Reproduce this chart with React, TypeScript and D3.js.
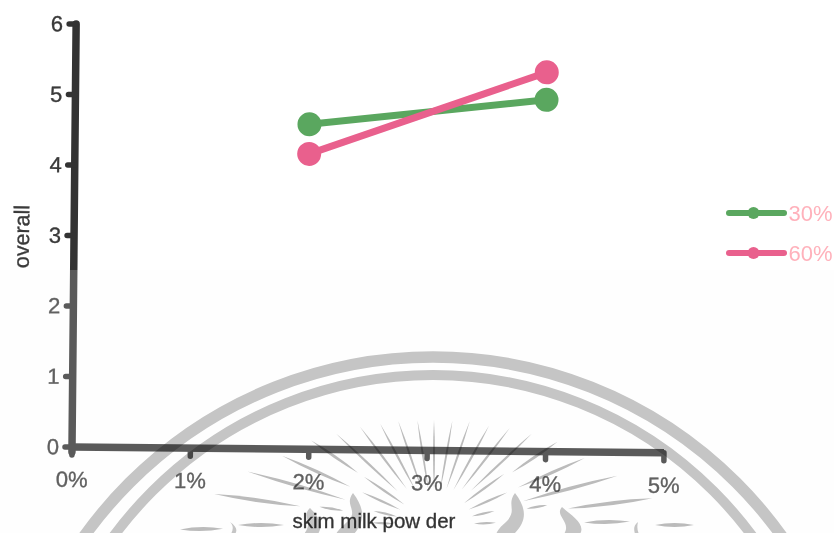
import React from "react";
import * as d3 from "d3";

// Skim milk powder level on x, overall score on y
const xTicks = [0, 1, 2, 3, 4, 5];
const yTicks = [0, 1, 2, 3, 4, 5, 6];
const doses = [2, 4];
const series30 = [4.61, 4.99];
const series60 = [4.19, 5.38];
const legendLabels = ["30%", "60%"];
const colors = ["#5aa75f", "#e9608d"];

// Seal rays as [angle from vertical, inner radius, outer radius, widest width]
const sealRays: number[][] = [
  [-47, 50, 134, 3.6], [-37, 45, 123, 3.4], [-28, 40, 115, 3.4], [-19, 38, 110, 3.2], [-9, 36, 106, 3],
  [0, 36, 105, 3], [10, 36, 106, 3], [19, 38, 110, 3.2], [29, 40, 114, 3.4], [38, 45, 123, 3.4], [47, 50, 134, 3.6],
  [-55.5, 92, 149, 4.4], [-55.5, 36, 85, 3.6], [-65.5, 92, 167, 4.8], [-65.5, 37, 79, 3.6],
  [-74, 92, 194, 5.4], [-77, 38, 62, 3.6], [-82, 135, 222, 6], [-81, 92, 116, 4],
  [56, 94, 149, 4.4], [54, 37, 87, 3.6], [66, 92, 165, 4.8], [66, 38, 80, 3.6],
  [75, 92, 190, 5.4], [77, 39, 62, 3.6], [83, 135, 220, 6], [80, 94, 115, 4],
  [-90, 150, 196, 6], [-91, 211, 254, 6], [89, 150, 196, 6], [90, 221, 260, 6], [88, 40, 62, 3.6], [-88, 40, 62, 3.6],
];
const sealRings = [
  { r: 429, cy: 786, w: 11.5 },
  { r: 397, cy: 772, w: 10 },
];
const sealFlames = [
  "M353,493 C344,505 358,510 349,520 C342,527 338,530 336,534 L354,534 C364,522 366,510 353,493 Z",
  "M310,508 C301,516 314,522 304,534 L318,534 C324,524 318,516 310,508 Z",
  "M515,493 C506,505 518,510 506,522 C500,527 498,530 496,534 L514,534 C526,522 528,510 515,493 Z",
  "M562,507 C554,516 572,522 564,534 L580,534 C586,524 572,516 562,507 Z",
  "M230,522 C234,526 233,530 231,534 L235,534 C238,530 236,526 230,522 Z",
  "M638,522 C633,526 634,530 635,534 L639,534 C637,530 637,526 638,522 Z",
];

const font = "'Liberation Sans', Arial, sans-serif";

const x = d3.scaleLinear().domain([0, 5]).range([72, 664]);
const y = d3.scaleLinear().domain([0, 6]).range([447, 24]);

// Lens-shaped stroke running along one ray of the seal
function rayPath(cx: number, cy: number, ray: number[]) {
  const [a, r0, r1, w] = ray;
  const rad = (a * Math.PI) / 180;
  const ux = Math.sin(rad);
  const uy = -Math.cos(rad);
  const rm = (r0 + r1) / 2;
  const mx = cx + rm * ux;
  const my = cy + rm * uy;
  const nx = (-uy * w) / 1.5;
  const ny = (ux * w) / 1.5;
  const p = d3.path();
  p.moveTo(cx + r0 * ux, cy + r0 * uy);
  p.quadraticCurveTo(mx + nx, my + ny, cx + r1 * ux, cy + r1 * uy);
  p.quadraticCurveTo(mx - nx, my - ny, cx + r0 * ux, cy + r0 * uy);
  p.closePath();
  return p.toString();
}

export default function App() {
  const line = d3
    .line<[number, number]>()
    .x((d) => x(d[0]))
    .y((d) => y(d[1]));
  const allSeries = [series30, series60];
  const ink = "#333";
  const textStyle = { stroke: "#3a3a3a", strokeWidth: 0.35 };

  return (
    <svg
      width={834}
      height={533}
      style={{ position: "absolute", left: 0, top: 0, background: "#fff", fontFamily: font }}
    >
      {/* Plot tilts slightly clockwise around the origin */}
      <g transform="rotate(0.56 72 447)">
        <line x1={x(0)} x2={x(0)} y1={y(0) + 5} y2={y(6)} stroke={ink} strokeWidth={7.5} strokeLinecap="round" />
        <line x1={x(0)} x2={x(5)} y1={y(0)} y2={y(0)} stroke={ink} strokeWidth={7.5} />
        {yTicks.map((t) => (
          <g key={t}>
            <line x1={x(0) - 7} x2={x(0)} y1={y(t)} y2={y(t)} stroke={ink} strokeWidth={5.5} strokeLinecap="round" />
            <text x={x(0) - 13} y={y(t) + 7.5} textAnchor="end" fontSize={22} fill="#3a3a3a" style={textStyle}>
              {t}
            </text>
          </g>
        ))}
        {xTicks.map((t) => (
          <g key={t}>
            <line x1={x(t)} x2={x(t)} y1={y(0)} y2={y(0) + 8} stroke={ink} strokeWidth={5.5} strokeLinecap="round" />
            <text x={x(t)} y={y(0) + 40} textAnchor="middle" fontSize={22} fill="#3a3a3a" style={textStyle}>
              {`${t}%`}
            </text>
          </g>
        ))}
        <text
          transform="translate(27 237) rotate(-90)"
          textAnchor="middle"
          fontSize={21.5}
          fill="#3a3a3a"
          style={textStyle}
        >
          overall
        </text>

        <g transform="translate(-2.5 0)">
          {allSeries.map((vals, i) => {
            const pts = doses.map((d, j) => [d, vals[j]] as [number, number]);
            return (
              <g key={i}>
                <path d={line(pts) ?? ""} fill="none" stroke={colors[i]} strokeWidth={7} />
                {pts.map((p) => (
                  <circle key={p[0]} cx={x(p[0])} cy={y(p[1])} r={12} fill={colors[i]} />
                ))}
              </g>
            );
          })}
        </g>
      </g>

      {/* Legend */}
      {legendLabels.map((label, i) => {
        const ly = 213 + i * 40;
        return (
          <g key={label}>
            <line x1={729} x2={784} y1={ly} y2={ly} stroke={colors[i]} strokeWidth={6} strokeLinecap="round" />
            <circle cx={753.5} cy={ly} r={6} fill={colors[i]} />
            <text x={788.5} y={ly + 8} fontSize={22} fill="#ffb1bb">
              {label}
            </text>
          </g>
        );
      })}

      {/* Lighter lower half of the scanned page */}
      <rect x={0} y={270} width={834} height={263} fill="#fcfcfc" opacity={0.2} />

      {/* University seal printed behind the chart */}
      <g style={{ mixBlendMode: "multiply" }}>
        {sealRings.map((ring) => (
          <circle key={ring.r} cx={433} cy={ring.cy} r={ring.r} fill="none" stroke="#c6c6c6" strokeWidth={ring.w} />
        ))}
        {sealRays.map((ray, i) => (
          <path key={i} d={rayPath(434, 525, ray)} fill="#bcbcbc" />
        ))}
        {sealFlames.map((d) => (
          <path key={d} d={d} fill="#c6c6c6" />
        ))}
      </g>

      {/* Axis title sits over the seal at full ink */}
      <text
        x={374}
        y={528}
        textAnchor="middle"
        fontSize={20.5}
        fill="#333"
        style={{ ...textStyle, mixBlendMode: "multiply" }}
      >
        skim milk pow der
      </text>
    </svg>
  );
}
